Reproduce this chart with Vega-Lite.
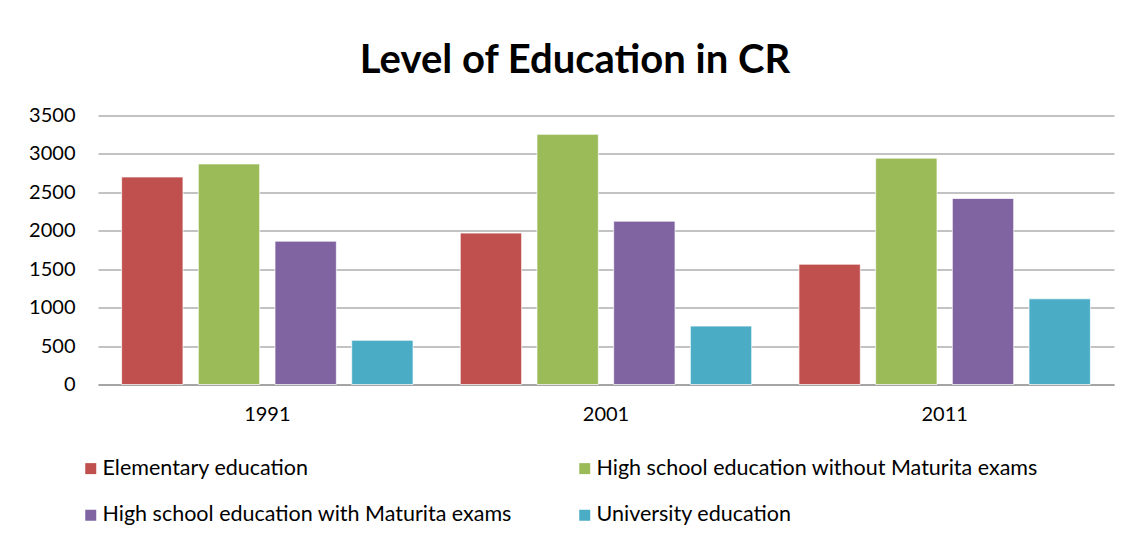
{
  "$schema": "https://vega.github.io/schema/vega-lite/v6.json",
  "autosize": "none",
  "width": 1016,
  "height": 269,
  "padding": {"left": 98, "top": 115.5, "right": 20, "bottom": 155.5},
  "background": "white",
  "title": {
    "text": "Level of Education in CR",
    "font": "Lato",
    "fontSize": 40,
    "fontWeight": "bold",
    "color": "#000000",
    "anchor": "middle",
    "dx": -31,
    "offset": 25
  },
  "data": {
    "values": [
      {"year": "1991", "level": "Elementary education", "value": 2700},
      {"year": "1991", "level": "High school education without Maturita exams", "value": 2870},
      {"year": "1991", "level": "High school education with Maturita exams", "value": 1865},
      {"year": "1991", "level": "University education", "value": 575},
      {"year": "2001", "level": "Elementary education", "value": 1970},
      {"year": "2001", "level": "High school education without Maturita exams", "value": 3255},
      {"year": "2001", "level": "High school education with Maturita exams", "value": 2125},
      {"year": "2001", "level": "University education", "value": 760},
      {"year": "2011", "level": "Elementary education", "value": 1565},
      {"year": "2011", "level": "High school education without Maturita exams", "value": 2945},
      {"year": "2011", "level": "High school education with Maturita exams", "value": 2420},
      {"year": "2011", "level": "University education", "value": 1115}
    ]
  },
  "mark": {"type": "bar", "stroke": "#ffffff", "strokeWidth": 1, "strokeOpacity": 0.7},
  "encoding": {
    "x": {
      "field": "year",
      "type": "nominal",
      "scale": {"paddingInner": 0, "paddingOuter": 0},
      "axis": {
        "title": null,
        "labelAngle": 0,
        "labelFont": "Lato",
        "labelFontSize": 20,
        "labelColor": "#000000",
        "labelPadding": 20,
        "ticks": false,
        "domainColor": "#868686",
        "domainWidth": 1
      }
    },
    "xOffset": {
      "field": "level",
      "type": "nominal",
      "sort": ["Elementary education", "High school education without Maturita exams", "High school education with Maturita exams", "University education"],
      "scale": {"paddingInner": 0.2, "paddingOuter": 0.308}
    },
    "y": {
      "field": "value",
      "type": "quantitative",
      "scale": {"domain": [0, 3500], "nice": false},
      "axis": {
        "title": null,
        "values": [0, 500, 1000, 1500, 2000, 2500, 3000, 3500],
        "format": "d",
        "labelFont": "Lato",
        "labelFontSize": 20,
        "labelColor": "#000000",
        "labelPadding": 23,
        "ticks": false,
        "domain": false,
        "grid": true,
        "gridColor": "#868686",
        "gridWidth": 1
      }
    },
    "color": {
      "field": "level",
      "type": "nominal",
      "sort": ["Elementary education", "High school education without Maturita exams", "High school education with Maturita exams", "University education"],
      "scale": {
        "domain": ["Elementary education", "High school education without Maturita exams", "High school education with Maturita exams", "University education"],
        "range": ["#C0504D", "#9BBB59", "#8064A2", "#4BACC6"]
      },
      "legend": {
        "title": null,
        "orient": "none",
        "legendX": -18,
        "legendY": 342,
        "padding": 0,
        "direction": "horizontal",
        "columns": 2,
        "columnPadding": 62,
        "rowPadding": 24,
        "symbolType": "square",
        "symbolSize": 121,
        "symbolStrokeWidth": 0,
        "symbolOpacity": 1,
        "labelFont": "Lato",
        "labelFontSize": 21.5,
        "labelColor": "#000000",
        "labelOffset": 1,
        "labelLimit": 600
      }
    }
  },
  "config": {"view": {"stroke": null}}
}
